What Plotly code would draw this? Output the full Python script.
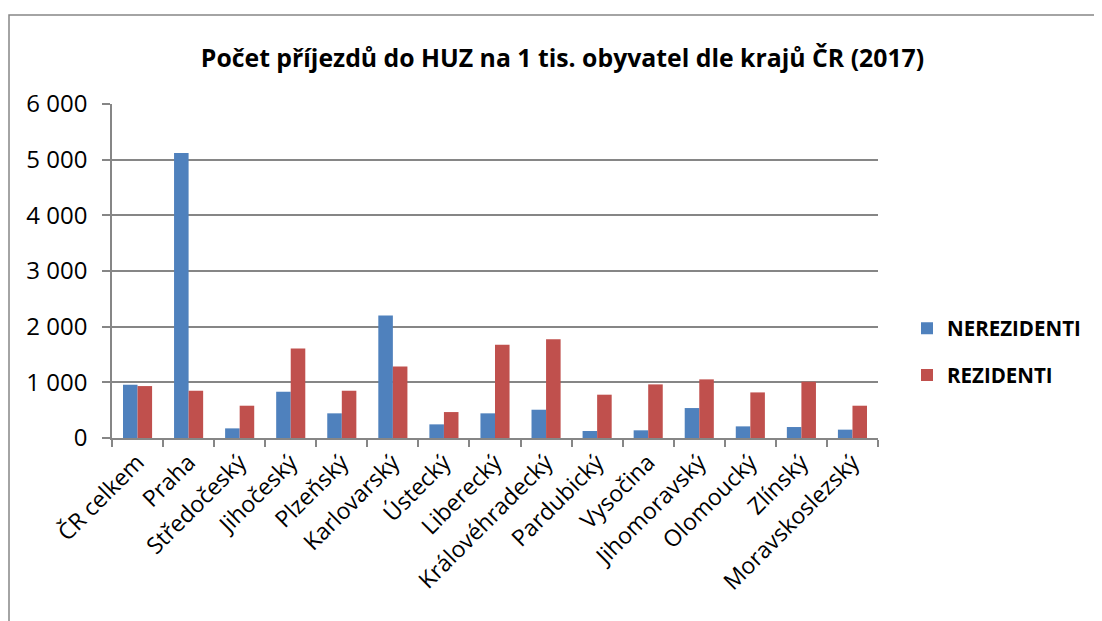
import plotly.graph_objects as go

categories = ["ČR celkem", "Praha", "Středočeský", "Jihočeský", "Plzeňský",
              "Karlovarský", "Ústecký", "Liberecký", "Královéhradecký",
              "Pardubický", "Vysočina", "Jihomoravský", "Olomoucký",
              "Zlínský", "Moravskoslezský"]
nerezidenti = [957, 5120, 173, 831, 443, 2201, 245, 443, 508, 126, 138, 538, 209, 197, 150]
rezidenti = [933, 849, 580, 1609, 849, 1286, 466, 1675, 1776, 778, 963, 1053, 819, 1011, 580]
y_ticks = [0, 1000, 2000, 3000, 4000, 5000, 6000]
y_tick_labels = ["0", "1 000", "2 000", "3 000", "4 000", "5 000", "6 000"]
title_text = "Počet příjezdů do HUZ na 1 tis. obyvatel dle krajů ČR (2017)"

W, H = 1102, 621
OFF = 8  # page body margin
# plot area in screen pixels
SL, SR, ST, SB = 112, 878, 104, 438
L, R, T, B = SL - OFF, SR - OFF, ST - OFF, SB - OFF

fig = go.Figure()
fig.add_trace(go.Bar(x=categories, y=nerezidenti, name="NEREZIDENTI",
                     marker=dict(color="#4F81BD", line=dict(width=0)),
                     legendgroup="a"))
fig.add_trace(go.Bar(x=categories, y=rezidenti, name="REZIDENTI",
                     marker=dict(color="#C0504D", line=dict(width=0)),
                     legendgroup="b"))

font_family = "Open Sans"
pw = R - L
ph = B - T


def px(sx):
    return (sx - OFF - L) / pw


def py(sy):
    return (B - (sy - OFF)) / ph


fig.update_layout(
    width=W, height=H,
    margin=dict(l=L, r=W - R, t=T, b=H - B, autoexpand=False),
    paper_bgcolor="white", plot_bgcolor="white",
    barmode="group", bargap=0.43, bargroupgap=0,
    font=dict(family=font_family, color="black"),
    title=dict(text="<b>" + title_text + "</b>", x=(562.5 - OFF) / W, xanchor="center",
               y=1 - (58 - OFF) / H, yanchor="middle",
               font=dict(size=24.8, family=font_family, color="black")),
    showlegend=True,
    legend=dict(x=px(907), xanchor="left", y=py(352), yanchor="middle",
                font=dict(size=20.5, family=font_family, color="black", weight="bold"),
                tracegroupgap=17, itemwidth=30, bgcolor="rgba(0,0,0,0)"),
    xaxis=dict(type="category", tickangle=-45, tickson="boundaries",
               ticks="outside", ticklen=7, tickcolor="#868686", tickwidth=1.5,
               showline=True, linecolor="#868686", linewidth=1.5,
               showgrid=False, tickfont=dict(size=23, family=font_family, color="black"),
               range=[-0.5, len(categories) - 0.5]),
    yaxis=dict(range=[0, 6000], tickvals=y_ticks, ticktext=y_tick_labels,
               ticks="outside", ticklen=8, tickcolor="#868686", tickwidth=1.5,
               showline=True, linecolor="#868686", linewidth=1.5,
               showgrid=True, gridcolor="#868686", gridwidth=1.5,
               ticklabelstandoff=10,
               zeroline=False, tickfont=dict(size=24, family=font_family, color="black")),
    shapes=[dict(type="rect", xref="paper", yref="paper",
                 x0=px(9), x1=px(W + 20), y0=py(H + 20), y1=py(15),
                 line=dict(color="#868686", width=1.5), fillcolor="rgba(0,0,0,0)",
                 layer="below")],
)

fig.write_html("out.html")
